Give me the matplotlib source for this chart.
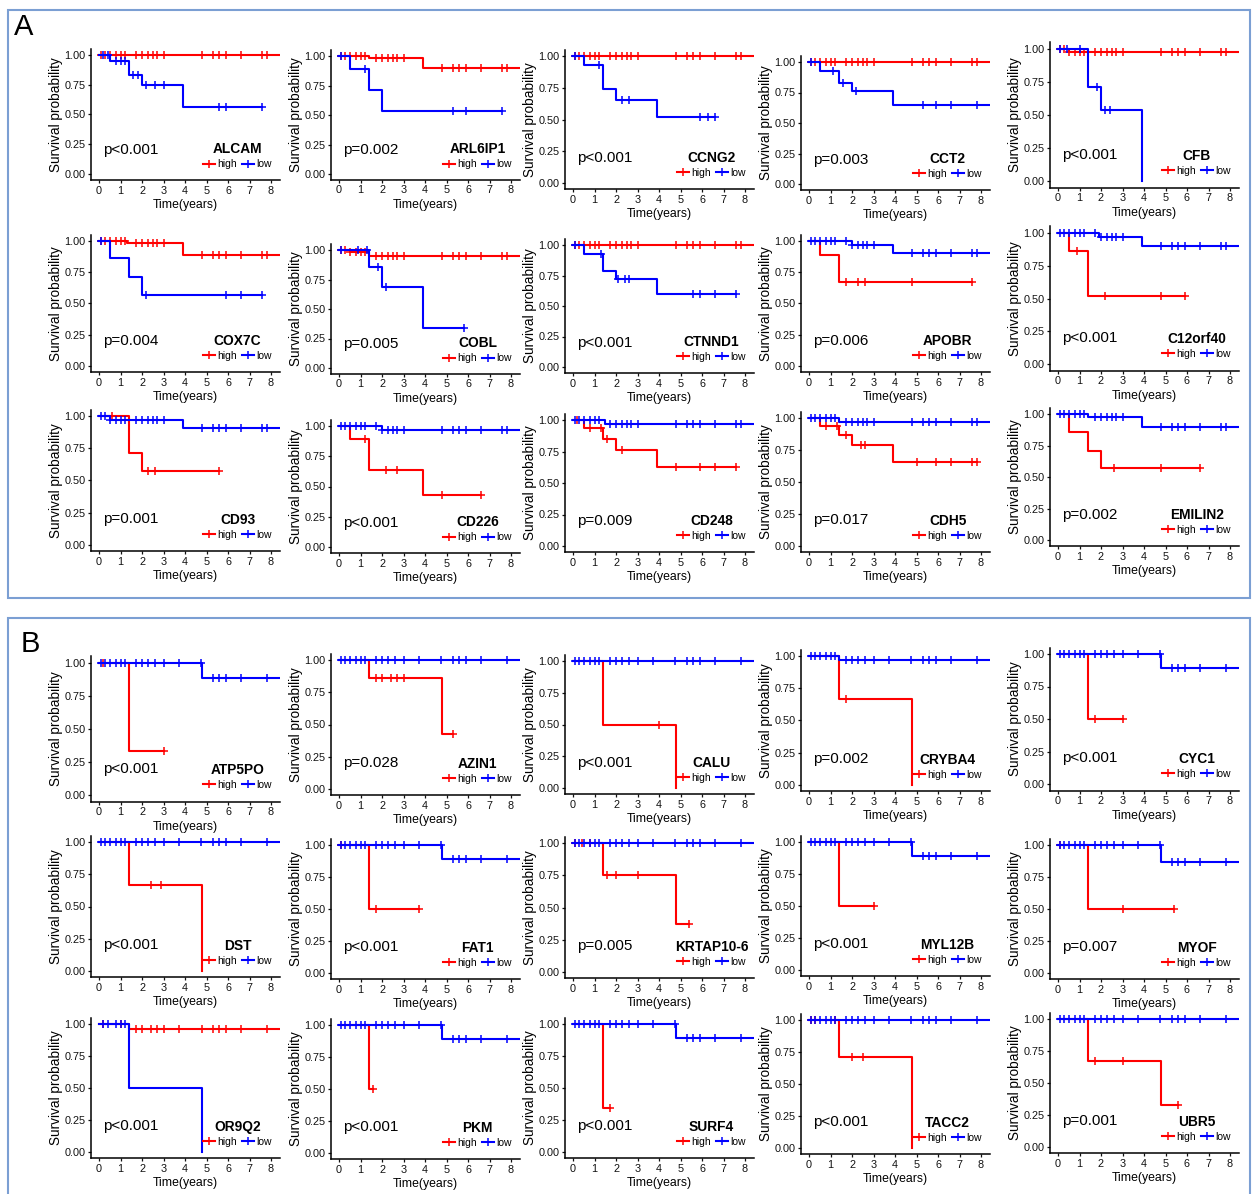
import numpy as np
import matplotlib
matplotlib.use('Agg')
import matplotlib.pyplot as plt
from matplotlib.lines import Line2D
from matplotlib.patches import Rectangle
from matplotlib import font_manager

# ---- dados ----
GENES_A = ['ALCAM', 'ARL6IP1', 'CCNG2', 'CCT2', 'CFB',
           'COX7C', 'COBL', 'CTNND1', 'APOBR', 'C12orf40',
           'CD93', 'CD226', 'CD248', 'CDH5', 'EMILIN2']
GENES_B = ['ATP5PO', 'AZIN1', 'CALU', 'CRYBA4', 'CYC1',
           'DST', 'FAT1', 'KRTAP10-6', 'MYL12B', 'MYOF',
           'OR9Q2', 'PKM', 'SURF4', 'TACC2', 'UBR5']
PVALS_A = ['p<0.001', 'p=0.002', 'p<0.001', 'p=0.003', 'p<0.001',
           'p=0.004', 'p=0.005', 'p<0.001', 'p=0.006', 'p<0.001',
           'p=0.001', 'p<0.001', 'p=0.009', 'p=0.017', 'p=0.002']
PVALS_B = ['p<0.001', 'p=0.028', 'p<0.001', 'p=0.002', 'p<0.001',
           'p<0.001', 'p<0.001', 'p=0.005', 'p<0.001', 'p=0.007',
           'p<0.001', 'p<0.001', 'p<0.001', 'p<0.001', 'p=0.001']

# tempos de censura comuns (grupos grandes)
CENS_A = [0.1, 0.3, 0.5, 0.8, 1.0, 1.2, 1.7, 2.0, 2.3, 2.5, 2.7, 3.0,
          4.8, 5.3, 5.6, 5.9, 6.6, 7.6, 7.8]
CENS_B = [0.1, 0.3, 0.5, 0.8, 1.0, 1.2, 1.7, 2.0, 2.3, 2.6, 3.0, 3.7,
          4.75, 5.3, 5.6, 5.9, 6.6, 7.8]

# grupo "high" (vermelho): tempos de queda, sobrevida após a queda, tempo final, censuras
HIGH_T = [[], [1.4, 3.9], [], [], [0.5],
          [1.3, 3.9], [0.5, 1.4], [], [0.5, 1.4], [0.5, 1.4],
          [1.4, 2.0], [0.5, 1.4, 3.9], [0.5, 1.4, 2.0, 3.9], [0.5, 1.4, 2.0, 3.9], [0.5, 1.4, 2.0],
          [1.4], [1.4, 4.8], [1.4, 4.8], [1.4, 4.8], [1.4],
          [1.4, 4.8], [1.4], [1.4, 4.8], [1.4], [1.4],
          [1.4], [1.4], [1.4], [1.4, 4.8], [1.4, 4.8]]
HIGH_S = [[], [0.98, 0.90], [], [], [0.98],
          [0.985, 0.89], [0.98, 0.95], [], [0.89, 0.67], [0.86, 0.52],
          [0.71, 0.57], [0.89, 0.64, 0.43], [0.94, 0.85, 0.76, 0.63], [0.94, 0.87, 0.79, 0.66], [0.86, 0.71, 0.57],
          [0.33], [0.86, 0.43], [0.5, 0.0], [0.67, 0.0], [0.5],
          [0.67, 0.0], [0.5], [0.75, 0.37], [0.5], [0.5],
          [0.96], [0.5], [0.34], [0.71, 0.0], [0.67, 0.33]]
HIGH_END = [8.4, 8.4, 8.4, 8.4, 8.4,
            8.4, 8.4, 8.4, 7.6, 5.9,
            5.6, 6.6, 7.6, 7.8, 6.6,
            3.0, 5.3, 4.8, 4.8, 3.0,
            4.8, 3.7, 5.4, 3.0, 5.4,
            8.4, 1.6, 1.7, 4.8, 5.6]
HIGH_C = [CENS_A, CENS_A, CENS_A, CENS_A, CENS_A,
          CENS_A, CENS_A, CENS_A, [1.7, 2.3, 2.6, 4.8, 7.6], [0.9, 2.2, 4.8, 5.9],
          [0.6, 2.3, 2.6, 5.6], [1.2, 2.2, 2.7, 4.8, 6.6], [0.2, 0.8, 1.3, 1.6, 2.3, 4.8, 5.9, 6.6, 7.6],
          [0.8, 1.3, 1.7, 2.4, 2.6, 5.0, 5.9, 6.6, 7.6, 7.8], [2.6, 4.8, 6.6],
          [0.2, 3.0], [1.7, 2.0, 2.4, 2.7, 3.0, 5.3], [4.0], [1.7], [1.7, 3.0],
          [2.4, 2.9], [0.1, 1.7, 3.7], [0.1, 0.4, 0.8, 1.6, 2.0, 3.0, 5.4], [3.0], [0.1, 3.0, 5.4],
          [0.2, 1.0, 1.7, 2.0, 2.4, 2.7, 3.0, 3.7, 4.8, 5.3, 5.6, 5.9, 6.6, 7.8],
          [1.6], [1.7], [0.1, 0.3, 1.2, 2.0, 2.5], [1.7, 3.0, 5.6]]

# grupo "low" (azul)
LOW_T = [[0.5, 1.4, 2.0, 3.9], [0.5, 1.4, 2.0], [0.5, 1.4, 2.0, 3.9], [0.5, 1.4, 2.0, 3.9], [1.4, 2.0, 3.9],
         [0.5, 1.4, 2.0], [1.4, 2.0, 3.9], [0.5, 1.4, 2.0, 3.9], [2.0, 3.9], [1.9, 3.9],
         [0.5, 3.9], [2.0], [1.5], [1.4], [1.4, 3.9],
         [4.8], [], [], [1.4], [4.8],
         [], [4.8], [], [4.8], [4.8],
         [1.4, 4.8], [4.8], [4.8], [], []]
LOW_S = [[0.95, 0.83, 0.75, 0.56], [0.89, 0.71, 0.53], [0.93, 0.74, 0.65, 0.52], [0.93, 0.83, 0.76, 0.65], [0.71, 0.54, 0.0],
         [0.86, 0.71, 0.57], [0.86, 0.69, 0.34], [0.93, 0.79, 0.72, 0.60], [0.97, 0.90], [0.97, 0.90],
         [0.97, 0.91], [0.97], [0.97], [0.97], [0.98, 0.90],
         [0.89], [], [], [0.97], [0.89],
         [], [0.89], [], [0.89], [0.87],
         [0.5, 0.0], [0.89], [0.89], [], []]
LOW_END = [7.6, 7.6, 6.6, 8.4, 3.9,
           7.6, 5.8, 7.6, 8.4, 8.4,
           8.4, 8.4, 8.4, 8.4, 8.4,
           8.4, 8.4, 8.4, 8.4, 8.4,
           8.4, 8.4, 8.4, 8.4, 8.4,
           4.8, 8.4, 8.4, 8.4, 8.4]
LOW_C = [[0.2, 0.4, 0.8, 1.0, 1.2, 1.6, 1.8, 2.2, 2.6, 3.0, 5.6, 5.9, 7.6],
         [0.1, 1.2, 5.3, 5.9, 7.6], [0.1, 1.2, 2.3, 2.6, 5.9, 6.3, 6.6],
         [0.1, 1.1, 1.6, 2.2, 5.3, 5.9, 6.6, 7.8], [0.1, 0.4, 1.0, 1.8, 2.2, 2.4],
         [0.1, 2.2, 5.9, 6.6, 7.6], [0.1, 0.9, 1.3, 1.8, 2.2, 5.8],
         [0.1, 1.3, 2.1, 2.4, 2.6, 5.6, 5.9, 6.6, 7.6], CENS_A, CENS_A,
         CENS_A, CENS_A, CENS_A, CENS_A, CENS_A,
         CENS_B, CENS_B, CENS_B, CENS_B, CENS_B,
         CENS_B, CENS_B, CENS_B, CENS_B, CENS_B,
         [0.2, 0.4, 0.8, 1.0, 1.2], CENS_B, CENS_B, CENS_B, CENS_B]

# ---- layout (pixels da imagem) ----
W, H = 1254, 1194
X0_COLS = [99, 339, 573, 809, 1058]
Y_PANELS = [(55, 174), (56, 174), (56, 183), (62, 184), (49, 181),
            (241, 366), (250, 368), (245, 367), (241, 366), (233, 364),
            (416, 545), (426, 547), (420, 546), (418, 546), (414, 540),
            (663, 795), (660, 789), (661, 788), (656, 785), (654, 784),
            (842, 971), (845, 973), (843, 972), (842, 970), (845, 973),
            (1024, 1152), (1025, 1153), (1024, 1152), (1020, 1148), (1019, 1147)]
PX_YEAR = 21.5
XMIN, XMAX = -0.37, 8.4
YMIN, YMAX = -0.05, 1.05

RED, BLUE = '#FF0000', '#0000FF'

names = {f.name for f in font_manager.fontManager.ttflist}
if 'Liberation Sans Narrow' in names:
    NARROW, NSCALE = 'Liberation Sans Narrow', 1.0
else:
    NARROW, NSCALE = 'Liberation Sans', 0.88
plt.rcParams['font.family'] = ['Liberation Sans', 'DejaVu Sans']


def draw_curve(ax, drops, levels, end, cens, color):
    t = [0.0] + list(drops) + [end]
    s = [1.0] + list(levels) + [levels[-1] if levels else 1.0]
    ax.step(t, s, where='post', color=color, lw=1.5)
    if cens:
        idx = np.searchsorted(drops, cens, side='right')
        lv = np.array([1.0] + list(levels))[idx]
        ax.plot(cens, lv, ls='none', marker='+', ms=5.5, mew=1.1, color=color)


fig = plt.figure(figsize=(W / 100, H / 100), dpi=100)

genes = GENES_A + GENES_B
pvals = PVALS_A + PVALS_B

for i in range(30):
    x0 = X0_COLS[i % 5]
    y1, y0 = Y_PANELS[i]
    yspan = y0 - y1
    left = x0 + XMIN * PX_YEAR
    right = x0 + XMAX * PX_YEAR
    top = y1 - (YMAX - 1) * yspan
    bottom = y0 - YMIN * yspan
    wpx, hpx = right - left, bottom - top
    ax = fig.add_axes([left / W, 1 - bottom / H, wpx / W, hpx / H])

    draw_curve(ax, HIGH_T[i], HIGH_S[i], HIGH_END[i], HIGH_C[i], RED)
    draw_curve(ax, LOW_T[i], LOW_S[i], LOW_END[i], LOW_C[i], BLUE)

    ax.set_xlim(XMIN, XMAX)
    ax.set_ylim(YMIN, YMAX)
    ax.set_xticks(range(9))
    ax.set_yticks([0, 0.25, 0.5, 0.75, 1.0])
    ax.set_yticklabels(['0.00', '0.25', '0.50', '0.75', '1.00'])
    for sp in ['top', 'right']:
        ax.spines[sp].set_visible(False)
    for sp in ['left', 'bottom']:
        ax.spines[sp].set_linewidth(1.1)
    ax.tick_params(length=2.5, width=0.9, pad=1.5, labelsize=7.8, colors='#111111')

    ax.set_ylabel('Survival probability', fontsize=9.8)
    ax.yaxis.set_label_coords(-28 / wpx, 0.5)
    ax.set_xlabel('Time(years)', family=NARROW, fontsize=10 * NSCALE)
    ax.xaxis.set_label_coords(0.5, -19 / hpx)

    ax.text(0.2, 0.2, pvals[i], ha='left', va='center',
            family=NARROW, fontsize=12.5 * NSCALE)

    handles = [Line2D([], [], color=RED, lw=1.5, marker='+', ms=5.5, mew=1.1),
               Line2D([], [], color=BLUE, lw=1.5, marker='+', ms=5.5, mew=1.1)]
    ax.legend(handles, ['high', 'low'], title=genes[i], ncol=2, frameon=False,
              loc='lower center', bbox_to_anchor=(6.45, 0.04), bbox_transform=ax.transData,
              prop={'family': NARROW, 'size': 8.5 * NSCALE},
              title_fontproperties={'family': NARROW, 'weight': 'bold', 'size': 11.3 * NSCALE},
              handlelength=1.1, handletextpad=0.25, columnspacing=0.5,
              borderpad=0, labelspacing=0.3, borderaxespad=0)

# molduras dos painéis A e B
box = '#7B9FD3'
fig.add_artist(Rectangle((8 / W, 1 - 598 / H), 1242 / W, 588 / H, transform=fig.transFigure,
                         fill=False, edgecolor=box, lw=1.5))
fig.add_artist(Rectangle((8 / W, 1 - 1200 / H), 1242 / W, 582 / H, transform=fig.transFigure,
                         fill=False, edgecolor=box, lw=1.5))
fig.text(24 / W, 1 - 27 / H, 'A', fontsize=21, ha='center', va='center')
fig.text(30 / W, 1 - 644 / H, 'B', fontsize=21, ha='center', va='center')

fig.savefig('out.png', dpi=100)
